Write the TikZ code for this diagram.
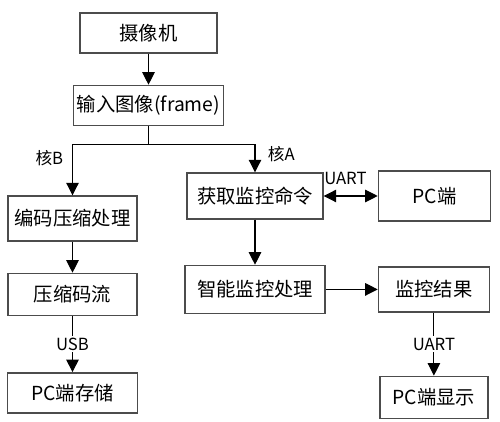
\documentclass[tikz,border=0pt]{standalone}
\usepackage{fontspec}
\newfontfamily\cjk{Noto Sans CJK SC}
\usepackage{tikz}
\usetikzlibrary{arrows.meta, positioning}

\begin{document}
\begin{tikzpicture}[
    node distance=0.62cm and 1.08cm,
    box/.style={draw=black!70, line width=0.8pt, minimum height=0.8cm, inner sep=2pt, align=center, font=\cjk\fontsize{11}{13}\selectfont},
    lbl/.style={font=\cjk\fontsize{9.5}{11}\selectfont, inner sep=1pt},
    ar/.style={-{Triangle[length=2.5mm, width=2.5mm]}, line width=0.6pt}
]
\useasboundingbox (0,0) rectangle (10,8.44);
% left branch (core B)
\node[box, minimum width=2.74cm] (cam) at (2.97,7.78) {摄像机};
\node[box, minimum width=2.76cm, below=of cam] (input) {输入图像(frame)};
\node[box, minimum width=2.58cm, minimum height=0.9cm] (enc) at (1.45,4.07) {编码压缩处理};
\node[box, minimum width=2.58cm, minimum height=0.84cm, below=of enc] (stream) {压缩码流};
\node[box, minimum width=2.6cm, below=1.12cm of stream] (store) {PC端存储};
% right branch (core A)
\node[box, minimum width=2.72cm, minimum height=0.92cm] (cmd) at (5.1,4.52) {获取监控命令};
\node[box, minimum width=2.24cm, minimum height=1cm, right=of cmd] (pc) {PC端};
\node[box, minimum width=2.8cm, minimum height=0.96cm, below=0.9cm of cmd] (smart) {智能监控处理};
\node[box, minimum width=2.22cm, minimum height=0.9cm, right=1.04cm of smart] (result) {监控结果};
\node[box, minimum width=2.16cm, minimum height=0.84cm, below=1.26cm of result] (show) {PC端显示};

\draw[ar] (cam) -- (input);
\draw[line width=0.6pt] (input.south) -- ++(0,-0.36) coordinate (fork);
\draw[ar] (fork) -| node[lbl, pos=0.64, left=4pt]{核B} (enc.north);
\draw[ar] (fork) -| node[lbl, pos=0.68, right=6pt]{核A} (cmd.north);
\draw[ar] (enc) -- (stream);
\draw[ar] (stream) -- node[lbl, fill=white]{USB} (store);
\draw[{Triangle[length=2.5mm, width=2.5mm]}-{Triangle[length=2.5mm, width=2.5mm]}, line width=0.6pt] (cmd) -- node[lbl, above=5pt, xshift=-3pt]{UART} (pc);
\draw[ar] (cmd) -- (smart);
\draw[ar] (smart) -- (result);
\draw[ar] (result) -- node[lbl, fill=white]{UART} (show);
\end{tikzpicture}
\end{document}
